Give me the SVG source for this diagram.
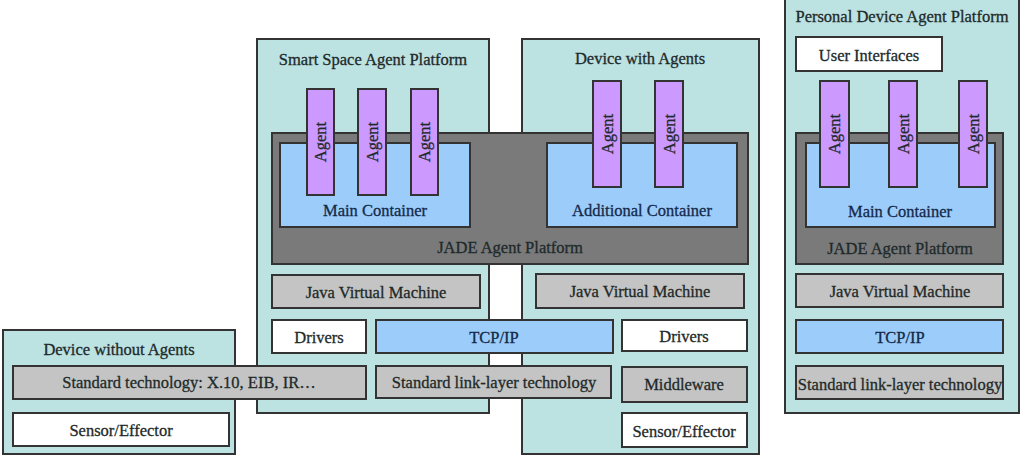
<svg xmlns="http://www.w3.org/2000/svg" width="1023" height="460" viewBox="0 0 1023 460">
<style>
rect{stroke:#333;stroke-width:2}
.plat{fill:#bde2e2}
.jade{fill:#7a7a7a}
.blue{fill:#9cccfa}
.agent{fill:#cc99ff}
.gray{fill:#c4c4c4}
.white{fill:#fff}
text{font-family:"Liberation Serif","Times New Roman",serif;font-size:16.5px;fill:#1e2a2a;stroke:#1e2a2a;stroke-width:0.3;text-anchor:middle;dominant-baseline:central}
.bt{fill:#142a4a;stroke:#142a4a}
</style>
<rect width="1023" height="460" fill="#fff" style="stroke:none"/>
<g id="device-without-agents">
<rect class="plat" x="3" y="330" width="232" height="124"/>
<text x="119" y="349">Device without Agents</text>
<rect class="white" x="13" y="413" width="216" height="33"/>
<text x="121" y="430">Sensor/Effector</text>
</g>
<g id="smart-space">
<rect class="plat" x="257" y="39" width="232" height="374"/>
<text x="373" y="59">Smart Space Agent Platform</text>
</g>
<g id="device-with-agents">
<rect class="plat" x="522" y="39" width="237" height="415"/>
<text x="640" y="58">Device with Agents</text>
</g>
<g id="personal-device">
<rect class="plat" x="785" y="-2" width="234" height="415"/>
<text x="902" y="16">Personal Device Agent Platform</text>
<rect class="white" x="796" y="37" width="146" height="34"/>
<text x="869" y="55">User Interfaces</text>
</g>
<g id="jade-shared">
<rect class="jade" x="272" y="133" width="476" height="131"/>
<text x="510" y="247">JADE Agent Platform</text>
</g>
<g id="main-container-ss">
<rect class="blue" x="280" y="143" width="190" height="84"/>
<text class="bt" x="375" y="210">Main Container</text>
</g>
<g id="additional-container">
<rect class="blue" x="547" y="143" width="190" height="84"/>
<text class="bt" x="642" y="210">Additional Container</text>
</g>
<g id="agents-ss">
<rect class="agent" x="307" y="89" width="27" height="106"/>
<text transform="translate(320.5,142) rotate(-90)">Agent</text>
<rect class="agent" x="358" y="89" width="28" height="106"/>
<text transform="translate(372,142) rotate(-90)">Agent</text>
<rect class="agent" x="411" y="89" width="27" height="106"/>
<text transform="translate(424.5,142) rotate(-90)">Agent</text>
</g>
<g id="agents-dwa">
<rect class="agent" x="593" y="81" width="28" height="106"/>
<text transform="translate(607,134) rotate(-90)">Agent</text>
<rect class="agent" x="655" y="81" width="28" height="106"/>
<text transform="translate(669,134) rotate(-90)">Agent</text>
</g>
<g id="jade-pd">
<rect class="jade" x="796" y="133" width="207" height="131"/>
<text x="900" y="248">JADE Agent Platform</text>
<rect class="blue" x="806" y="143" width="189" height="84"/>
<text class="bt" x="900" y="211">Main Container</text>
<rect class="agent" x="820" y="81" width="29" height="106"/>
<text transform="translate(834.5,134) rotate(-90)">Agent</text>
<rect class="agent" x="889" y="81" width="28" height="106"/>
<text transform="translate(903,134) rotate(-90)">Agent</text>
<rect class="agent" x="959" y="81" width="28" height="106"/>
<text transform="translate(973,134) rotate(-90)">Agent</text>
</g>
<g id="jvm-ss">
<rect class="gray" x="272" y="275" width="208" height="33"/>
<text x="376" y="292">Java Virtual Machine</text>
</g>
<g id="drivers-ss">
<rect class="white" x="272" y="320" width="94" height="33"/>
<text x="319" y="337">Drivers</text>
</g>
<g id="tcpip-shared">
<rect class="blue" x="376" y="320" width="237" height="33"/>
<text class="bt" x="494" y="337">TCP/IP</text>
</g>
<g id="link-layer-shared">
<rect class="gray" x="376" y="366" width="235" height="32"/>
<text x="494" y="382">Standard link-layer technology</text>
</g>
<g id="standard-technology">
<rect class="gray" x="13" y="366" width="353" height="33"/>
<text x="189" y="382">Standard technology: X.10, EIB, IR…</text>
</g>
<g id="jvm-dwa">
<rect class="gray" x="536" y="274" width="208" height="34"/>
<text x="640" y="291">Java Virtual Machine</text>
</g>
<g id="drivers-dwa">
<rect class="white" x="622" y="320" width="125" height="31"/>
<text x="684" y="336">Drivers</text>
</g>
<g id="middleware">
<rect class="gray" x="622" y="367" width="125" height="35"/>
<text x="684" y="384">Middleware</text>
</g>
<g id="sensor-dwa">
<rect class="white" x="622" y="413" width="125" height="34"/>
<text x="684" y="431">Sensor/Effector</text>
</g>
<g id="stack-pd">
<rect class="gray" x="796" y="274" width="207" height="33"/>
<text x="900" y="291">Java Virtual Machine</text>
<rect class="blue" x="796" y="320" width="207" height="33"/>
<text class="bt" x="900" y="337">TCP/IP</text>
<rect class="gray" x="796" y="366" width="207" height="33"/>
<text x="900" y="384">Standard link-layer technology</text>
</g>
<g id="connectors"></g>
</svg>
